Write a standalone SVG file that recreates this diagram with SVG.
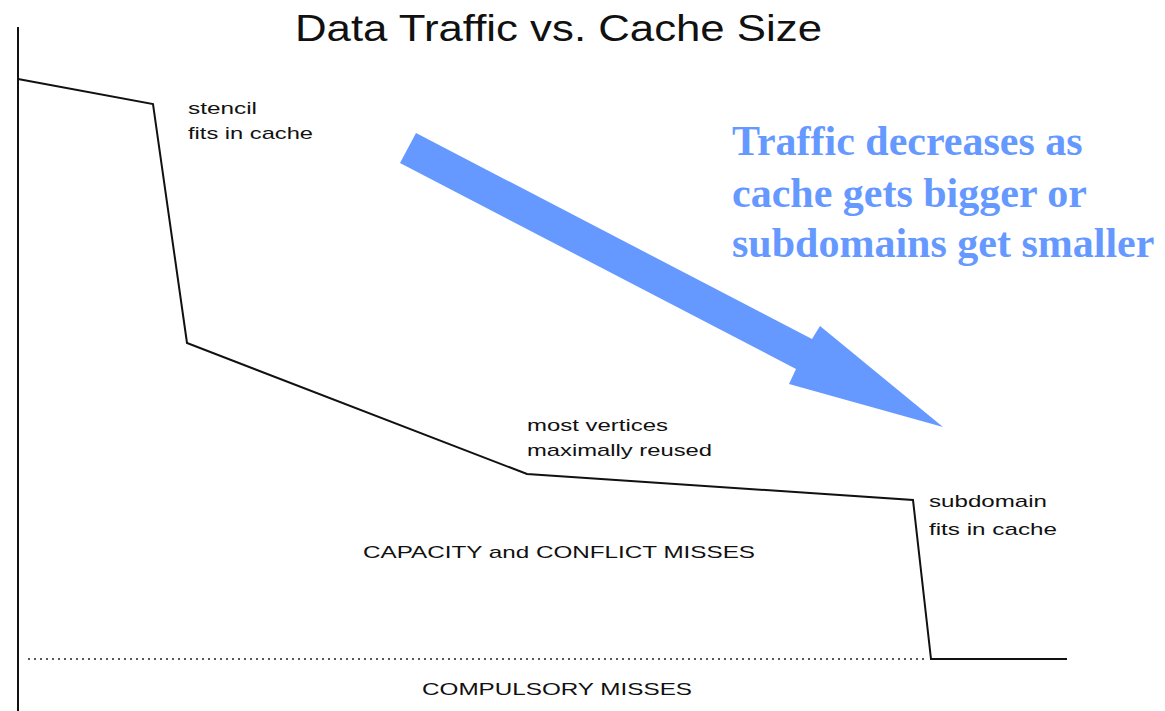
<svg xmlns="http://www.w3.org/2000/svg" width="1165" height="711" viewBox="0 0 1165 711">
<style>
.lbl{font-family:"Liberation Sans",Arial,sans-serif;font-size:17px;fill:#111}
.big{font-family:"Liberation Serif","Times New Roman",serif;font-size:42px;font-weight:bold;fill:#6699FF}
.curve{fill:none;stroke:#111;stroke-width:2;stroke-linejoin:miter}
</style>
<rect width="1165" height="711" fill="#ffffff"/>
<g id="title">
<text x="295" y="41" font-family="Liberation Sans, Arial, sans-serif" font-size="37" fill="#111" textLength="527" lengthAdjust="spacingAndGlyphs">Data Traffic vs. Cache Size</text>
</g>
<g id="axes">
<line x1="18" y1="27" x2="18" y2="711" stroke="#111" stroke-width="2"/>
<line x1="28" y1="659" x2="928" y2="659" stroke="#222" stroke-width="1.5" stroke-dasharray="2 4"/>
</g>
<g id="curve">
<polyline class="curve" points="18,79 153,104 187,343 527,474 913,500 931,659 1067,659"/>
</g>
<g id="labels">
<text class="lbl" x="188" y="114" textLength="69" lengthAdjust="spacingAndGlyphs">stencil</text>
<text class="lbl" x="188" y="139" textLength="125" lengthAdjust="spacingAndGlyphs">fits in cache</text>
<text class="lbl" x="527" y="431" textLength="141" lengthAdjust="spacingAndGlyphs">most vertices</text>
<text class="lbl" x="527" y="456" textLength="185" lengthAdjust="spacingAndGlyphs">maximally reused</text>
<text class="lbl" x="929" y="507" textLength="118" lengthAdjust="spacingAndGlyphs">subdomain</text>
<text class="lbl" x="929" y="535" textLength="128" lengthAdjust="spacingAndGlyphs">fits in cache</text>
<text class="lbl" x="363" y="558" textLength="392" lengthAdjust="spacingAndGlyphs">CAPACITY and CONFLICT MISSES</text>
<text class="lbl" x="422" y="695" textLength="270" lengthAdjust="spacingAndGlyphs">COMPULSORY MISSES</text>
</g>
<g id="trend-arrow">
<polygon points="416,133 812,339 820,326 943,427 789,384 796,369 400,163" fill="#6699FF"/>
</g>
<g id="trend-note">
<text class="big" x="732" y="155">Traffic decreases as</text>
<text class="big" x="732" y="207">cache gets bigger or</text>
<text class="big" x="732" y="257">subdomains get smaller</text>
</g>
</svg>
